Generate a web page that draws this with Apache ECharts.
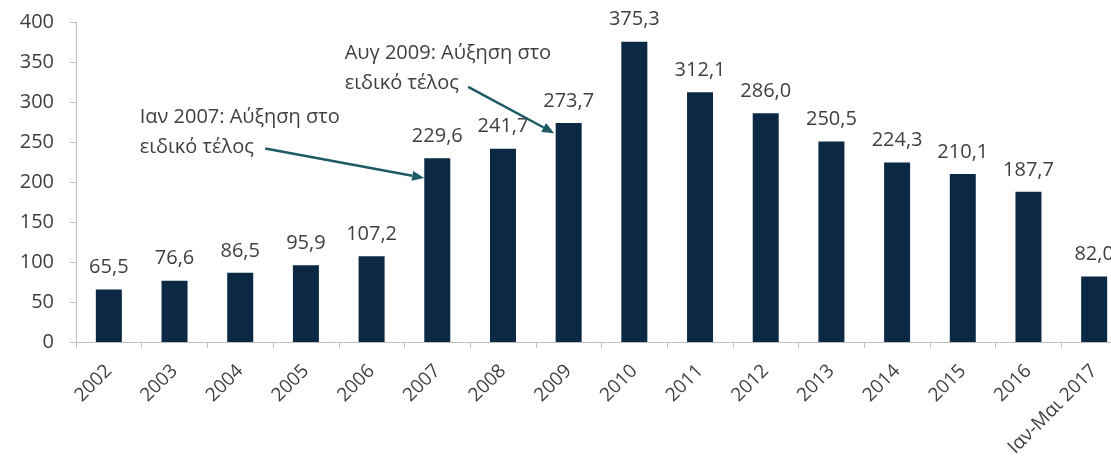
<!DOCTYPE html>
<html>
<head>
<meta charset="utf-8">
<script src="https://cdn.jsdelivr.net/npm/echarts@6/dist/echarts.min.js"></script>
<style>
  html, body { margin: 0; padding: 0; background: #fff; }
  #main { width: 1111px; height: 462px; }
</style>
</head>
<body>
<div id="main"></div>
<script>
// data
var categories = ['2002', '2003', '2004', '2005', '2006', '2007', '2008', '2009',
  '2010', '2011', '2012', '2013', '2014', '2015', '2016', 'Ιαν-Μαι 2017'];
var values = [65.5, 76.6, 86.5, 95.9, 107.2, 229.6, 241.7, 273.7,
  375.3, 312.1, 286.0, 250.5, 224.3, 210.1, 187.7, 82.0];
var yTicks = [0, 50, 100, 150, 200, 250, 300, 350, 400];

// annotations: text + arrow, positions given as [category index (fractional), value]
var notes = [
  { lines: ['Ιαν 2007: Αύξηση στο', 'ειδικό τέλος'], textAt: [0.47, 300], from: [2.38, 242], to: [4.8, 205] },
  { lines: ['Αυγ 2009: Αύξηση στο', 'ειδικό τέλος'], textAt: [3.59, 380], from: [5.47, 319], to: [6.78, 261] }
];

var textColor = '#404040';
var arrowColor = '#1d5a63';
var fontFam = '"Open Sans", "Noto Sans", sans-serif';

var myChart = echarts.init(document.getElementById('main'));
myChart.setOption({
  backgroundColor: '#fff',
  animation: false,
  grid: { left: 76, top: 22, width: 1051, height: 320, outerBoundsMode: 'none', containLabel: false },
  xAxis: {
    type: 'category',
    data: categories,
    axisLine: { lineStyle: { color: '#bfbfbf', width: 1 } },
    axisTick: { show: true, length: 6, lineStyle: { color: '#bfbfbf' } },
    axisLabel: { rotate: 45, color: textColor, fontSize: 19, fontFamily: fontFam, margin: 26, interval: 0 }
  },
  yAxis: {
    type: 'value',
    min: yTicks[0],
    max: yTicks[yTicks.length - 1],
    interval: 50,
    splitLine: { show: false },
    axisLine: { show: true, lineStyle: { color: '#bfbfbf', width: 1 } },
    axisTick: { show: true, length: 6, lineStyle: { color: '#bfbfbf' } },
    axisLabel: { color: textColor, fontSize: 20, fontFamily: fontFam, margin: 22 }
  },
  series: [{
    type: 'bar',
    data: values,
    barWidth: 26,
    itemStyle: { color: '#0b2944' },
    label: {
      show: true,
      position: 'top',
      distance: 12,
      color: textColor,
      fontSize: 20,
      fontFamily: fontFam,
      formatter: function (p) { return p.value.toFixed(1).replace('.', ','); }
    }
  }]
});

// annotations anchored to the axes (category axis rounds, so interpolate between bands)
function px(pt) {
  var p0 = myChart.convertToPixel({ gridIndex: 0 }, [0, pt[1]]);
  var p1 = myChart.convertToPixel({ gridIndex: 0 }, [1, pt[1]]);
  return [p0[0] + pt[0] * (p1[0] - p0[0]), p0[1]];
}

var graphics = [];
notes.forEach(function (n) {
  var t = px(n.textAt);
  graphics.push({
    type: 'text',
    x: t[0], y: t[1], z: 100,
    style: { text: n.lines.join('\n'), fill: textColor, font: '20px ' + fontFam, lineHeight: 30 }
  });
  var a = px(n.from), b = px(n.to);
  var ang = Math.atan2(b[1] - a[1], b[0] - a[0]);
  var hl = 12, hw = 5;
  var bx = b[0] - hl * Math.cos(ang), by = b[1] - hl * Math.sin(ang);
  graphics.push({
    type: 'line', z: 100,
    shape: { x1: a[0], y1: a[1], x2: bx, y2: by },
    style: { stroke: arrowColor, lineWidth: 2.5 }
  });
  graphics.push({
    type: 'polygon', z: 100,
    shape: { points: [
      [b[0], b[1]],
      [bx + hw * Math.sin(ang), by - hw * Math.cos(ang)],
      [bx - hw * Math.sin(ang), by + hw * Math.cos(ang)]
    ] },
    style: { fill: arrowColor }
  });
});
myChart.setOption({ graphic: graphics });
</script>
</body>
</html>
